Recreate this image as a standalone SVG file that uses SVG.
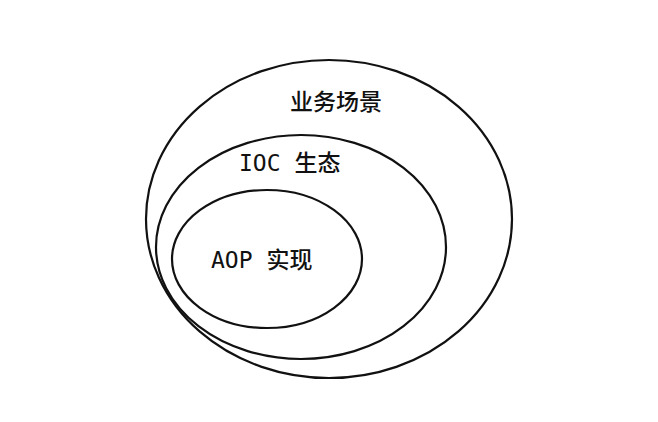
<svg xmlns="http://www.w3.org/2000/svg" width="658" height="422" viewBox="0 0 658 422">
<style>
.e{fill:none;stroke:#111;stroke-width:2.2}
.t{font-family:"DejaVu Sans Mono","Noto Sans CJK SC",monospace;font-size:23px;fill:#111;font-weight:500}
</style>
<rect width="658" height="422" fill="#fff"/>
<g id="outer"><ellipse class="e" cx="329" cy="219" rx="183" ry="159"/><text class="t" x="290" y="110">业务场景</text></g>
<g id="middle"><ellipse class="e" cx="301" cy="247" rx="145" ry="112"/><text class="t" x="239" y="171">IOC 生态</text></g>
<g id="inner"><ellipse class="e" cx="267" cy="259" rx="95" ry="69"/><text class="t" x="211" y="268">AOP 实现</text></g>
<g id="connectors"/>
</svg>
